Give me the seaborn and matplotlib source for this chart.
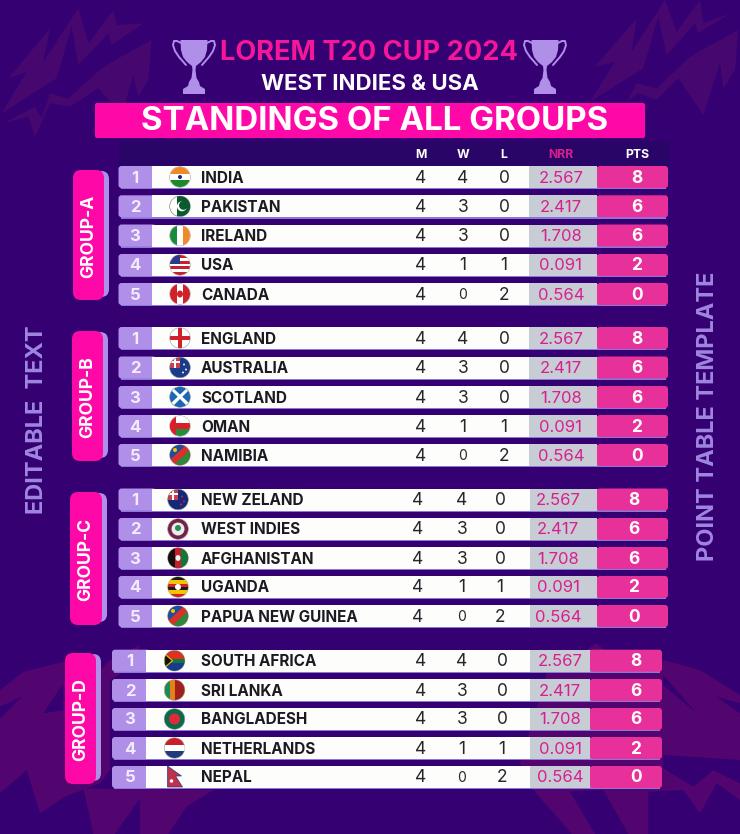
import matplotlib
matplotlib.use("Agg")
import matplotlib.pyplot as plt
from matplotlib.patches import FancyBboxPatch, Polygon, Rectangle, Ellipse
import pandas as pd
import seaborn as sns

# ---------- data ----------
title = "LOREM T20 CUP 2024"
subtitle = "WEST INDIES & USA"
banner = "STANDINGS OF ALL GROUPS"
columns = ["M", "W", "L", "NRR", "PTS"]
groups = ["GROUP-A", "GROUP-B", "GROUP-C", "GROUP-D"]
team_a = ["INDIA", "PAKISTAN", "IRELAND", "USA", "CANADA"]
team_b = ["ENGLAND", "AUSTRALIA", "SCOTLAND", "OMAN", "NAMIBIA"]
team_c = ["NEW ZELAND", "WEST INDIES", "AFGHANISTAN", "UGANDA", "PAPUA NEW GUINEA"]
team_d = ["SOUTH AFRICA", "SRI LANKA", "BANGLADESH", "NETHERLANDS", "NEPAL"]
ranks = [1, 2, 3, 4, 5]
played = [4, 4, 4, 4, 4]
won = [4, 3, 3, 1, 0]
lost = [0, 0, 0, 1, 2]
nrr = ["2.567", "2.417", "1.708", "0.091", "0.564"]
pts = [8, 6, 6, 2, 0]
side_left = "EDITABLE  TEXT"
side_right = "POINT TABLE TEMPLATE"

# ---------- layout (pixel space) ----------
W_PX, H_PX = 740, 834
BG = "#340072"
FLAME_TOP = "#46086f"
FLAME_BOT = "#52046f"
PINK = "#ff08a8"
TITLE_PINK = "#f5169a"
LILAC = "#b08fe8"
PTS_PINK = "#e8309a"
NRR_GREY = "#c8ccd4"
NRR_TXT = "#d81f8f"
ROW_Y = [[177, 206.3, 235.5, 265, 294],
         [338, 367.5, 397, 426, 455],
         [499.5, 529, 558, 587, 616],
         [660.7, 690, 719, 748, 777]]
GEOM = [dict(l=118.5, re=152, fx=180, m=421, w=463, l_=504, nl=529, nr=597, r=668, rk=135, nx=561, px=637),
        dict(l=118.5, re=152, fx=180, m=421, w=463, l_=504, nl=529, nr=597, r=668, rk=135, nx=561, px=637),
        dict(l=118.5, re=152, fx=178, m=418, w=462, l_=500, nl=530, nr=597, r=668, rk=135, nx=558, px=634),
        dict(l=112, re=146, fx=174.5, m=421, w=462, l_=502, nl=530, nr=590, r=662, rk=130, nx=560, px=636)]
PILLS = [(73, 170, 31, 130), (72, 331, 31, 130), (70, 492, 32, 133), (65, 653, 31, 131)]

sns.set_theme(style="white", rc={"axes.facecolor": BG, "figure.facecolor": BG})
plt.rcParams["font.family"] = ["Inter", "DejaVu Sans"]

fig = plt.figure(figsize=(W_PX / 100, H_PX / 100), dpi=100)
ax = fig.add_axes([0, 0, 1, 1])
ax.set_xlim(0, W_PX)
ax.set_ylim(H_PX, 0)
ax.axis("off")


def rbox(x, y, w, h, color, r=3, z=3):
    p = FancyBboxPatch((x + r, y + r), w - 2 * r, h - 2 * r, boxstyle=f"round,pad={r},rounding_size={r}",
                       fc=color, ec="none", zorder=z)
    ax.add_patch(p)
    return p


def zp(points, ox=0, oy=0):
    return [(ox + a / 3, oy + b / 3) for a, b in points]


# background flames (traced on 3x crops)
top_flames = [
    zp([(25, 235), (150, 85), (130, 185), (235, 25), (265, 130), (340, 30), (350, 75), (430, 70), (335, 135),
        (325, 100), (235, 195), (215, 80), (170, 235), (5, 340), (80, 215)]),
    zp([(10, 370), (105, 320), (125, 355), (150, 280), (205, 295), (305, 205), (345, 180), (455, 120), (445, 240),
        (415, 290), (400, 225), (375, 310), (335, 310), (295, 265), (210, 320), (150, 310), (105, 410), (85, 350)]),
    zp([(105, 200), (230, 55), (215, 155), (315, 0), (350, 95), (420, 0), (430, 70), (510, 40), (415, 100), (405, 70),
        (320, 165), (295, 50), (250, 205), (90, 305), (165, 185)], 560),
    zp([(200, 305), (230, 250), (290, 265), (385, 175), (425, 150), (535, 90), (525, 210), (490, 265), (480, 190),
        (430, 345), (355, 235), (290, 300), (235, 280)], 560),
]
bot_flames = [
    zp([(0, 150), (70, 95), (190, 65), (300, 90), (330, 60), (420, 15), (400, 80), (330, 120), (330, 240), (330, 390),
        (300, 430), (195, 470), (120, 520), (80, 390), (0, 460), (0, 235), (65, 170), (0, 200)], 0, 640),
    zp([(250, 445), (280, 582), (345, 582), (420, 475), (420, 582), (505, 582), (560, 500), (640, 450)], 0, 640),
    zp([(290, 10), (360, 70), (490, 60), (600, 90), (720, 165), (720, 190), (650, 170), (720, 220), (720, 360),
        (490, 345), (490, 385), (580, 440), (640, 390), (720, 430), (720, 480), (650, 430), (600, 520), (550, 450),
        (445, 455), (445, 582), (385, 582), (310, 450), (210, 455), (285, 582), (215, 582), (170, 530), (100, 450),
        (60, 370), (140, 100)], 500, 640),
]
for pts_ in top_flames:
    ax.add_patch(Polygon(pts_, closed=True, fc=FLAME_TOP, ec="none", zorder=1))
for pts_ in bot_flames:
    ax.add_patch(Polygon(pts_, closed=True, fc=FLAME_BOT, ec="none", zorder=1))
ax.add_patch(Polygon(zp([(490, 105), (590, 220), (490, 135)], 500, 640), fc=BG, ec="none", zorder=1.5))
ax.add_patch(Polygon(zp([(130, 220), (190, 130), (190, 210)], 0, 640), fc=BG, ec="none", zorder=1.5))


# trophies
def trophy(cx):
    c = LILAC
    cup = [(cx - 13.5, 40), (cx + 13.5, 40), (cx + 13, 50), (cx + 11, 57), (cx + 7, 62), (cx + 2, 66), (cx + 1.5, 70),
           (cx + 2.5, 78), (cx + 5, 82), (cx + 6, 86), (cx + 11, 89), (cx + 11, 94), (cx - 11, 94), (cx - 11, 89),
           (cx - 6, 86), (cx - 5, 82), (cx - 2.5, 78), (cx - 1.5, 70), (cx - 2, 66), (cx - 7, 62), (cx - 11, 57),
           (cx - 13, 50)]
    ax.add_patch(Polygon(cup, closed=True, fc=c, ec="none", zorder=3))
    for s in (-1, 1):
        hx = [cx + s * 13, cx + s * 17, cx + s * 20, cx + s * 21, cx + s * 19, cx + s * 15, cx + s * 8]
        hy = [43, 41, 41, 45, 51, 57, 65]
        ax.plot(hx, hy, color=c, lw=1.4, zorder=3, solid_capstyle="round")


trophy(194)
trophy(545)

ax.text(369, 53, title, color=TITLE_PINK, fontsize=19.6, fontweight="bold", ha="center", va="center", zorder=5)
ax.text(370, 84, subtitle, color="white", fontsize=16, fontweight="bold", ha="center", va="center", zorder=5)
rbox(95, 103, 550, 35, PINK, r=2, z=4)
ax.text(374.5, 121.5, banner, color="white", fontsize=23.8, fontweight="bold", ha="center", va="center", zorder=5)

# header band
ax.add_patch(Rectangle((118.5, 141), 550, 26, fc="#2a0568", ec="none", zorder=2))
for lab, x, col in zip(columns, [421, 463, 504, 561, 637], ["white", "white", "white", NRR_TXT, "white"]):
    ax.text(x, 154.5, lab, color=col, fontsize=8.8, fontweight="bold", ha="center", va="center", zorder=5)

# side texts
ax.text(37, 420, side_left, color="#9f86e0", fontsize=17, fontweight="bold", rotation=90, ha="center", va="center")
ax.text(708, 416, side_right, color="#9f86e0", fontsize=17, fontweight="bold", rotation=90, ha="center", va="center")

# pills
for name, (x, y, w, h) in zip(groups, PILLS):
    rbox(x + 4, y + 1, w + 1, h - 4, LILAC, r=8, z=3)
    rbox(x, y, w, h, PINK, r=8, z=4)
    ax.text(x + w / 2, y + h / 2 + 1, name, color="white", fontsize=12.6, fontweight="bold", rotation=90,
            ha="center", va="center", zorder=5)

# rows
teams = [team_a, team_b, team_c, team_d]
frames = []
TY = 1.0
for gi, (g, ys, names) in enumerate(zip(GEOM, ROW_Y, teams)):
    frames.append(pd.DataFrame({"team": names, "y": ys, "x": g["fx"]}))
    for i, y in enumerate(ys):
        top, h = y - 11, 22
        ax.add_patch(Rectangle((g["l"] + 2, top + 0.6), g["r"] - g["l"] - 4, h + 0.6, fc="#8a78d8", ec="none", zorder=2))
        rbox(g["l"], top, g["re"] - g["l"] + 4, h, LILAC, r=3, z=3)
        ax.add_patch(Rectangle((g["re"], top), g["nl"] - g["re"], h, fc="#fdfdfb", ec="none", zorder=3))
        ax.add_patch(Rectangle((g["nl"], top), g["nr"] - g["nl"], h, fc=NRR_GREY, ec="none", zorder=3))
        rbox(g["nr"], top, g["r"] - g["nr"], h, PTS_PINK, r=3, z=3)
        ax.text(g["rk"], y + TY, str(ranks[i]), color="#f3ecff", fontsize=12, fontweight="bold", ha="center", va="center", zorder=5)
        ax.text(201, y + TY, names[i], color="#1a1a22", fontsize=11, fontweight="bold", ha="left", va="center", zorder=5)
        tc = "#26262c"
        ax.text(g["m"], y + TY, str(played[i]), color=tc, fontsize=12.5, ha="center", va="center", zorder=5)
        ax.text(g["w"], y + TY, str(won[i]), color=tc, fontsize=12.5 if won[i] else 10, ha="center", va="center", zorder=5)
        ax.text(g["l_"], y + TY, str(lost[i]), color=tc, fontsize=12.5, ha="center", va="center", zorder=5)
        ax.text(g["nx"], y + TY, nrr[i], color=NRR_TXT, fontsize=12, ha="center", va="center", zorder=5)
        ax.text(g["px"], y + TY, str(pts[i]), color="white", fontsize=12.5, fontweight="bold", ha="center", va="center", zorder=5)

# flags: base disc through seaborn, details clipped to it
df = pd.concat(frames, ignore_index=True)
base = {"INDIA": "#ffffff", "PAKISTAN": "#0b5a2d", "IRELAND": "#ffffff", "USA": "#ffffff", "CANADA": "#ffffff",
        "ENGLAND": "#ffffff", "AUSTRALIA": "#1a3a8a", "SCOTLAND": "#1c67b5", "OMAN": "#ffffff", "NAMIBIA": "#d9302c",
        "NEW ZELAND": "#16287a", "WEST INDIES": "#7a1f4b", "AFGHANISTAN": "#c8202a", "UGANDA": "#f5c400",
        "PAPUA NEW GUINEA": "#d9302c", "SOUTH AFRICA": "#0e7a3a", "SRI LANKA": "#e8a21a", "BANGLADESH": "#0a6a4a",
        "NETHERLANDS": "#ffffff", "NEPAL": "#ffffff"}
sns.scatterplot(data=df[df.team != "NEPAL"], x="x", y="y", hue="team", palette=base, s=220, linewidth=0.4,
                edgecolor="#999999", legend=False, zorder=6, ax=ax)
H = {"INDIA": ["#f08a24", "#ffffff", "#1a8a2c"], "NETHERLANDS": ["#c8202a", "#ffffff", "#1f3a7a"],
     "OMAN": ["#ffffff", "#d9202a", "#2a8a3a"], "UGANDA": ["#1a1a1a", "#f5c400", "#d9202a", "#1a1a1a", "#f5c400", "#d9202a"],
     "USA": ["#c8202a", "#ffffff"] * 3 + ["#c8202a"]}
V = {"IRELAND": ["#1a8a3c", "#ffffff", "#f08a24"], "AFGHANISTAN": ["#111111", "#c8202a", "#0e7a3a"],
     "CANADA": ["#d0202a", "#ffffff", "#d0202a"], "PAKISTAN": ["#ffffff", "#0b5a2d", "#0b5a2d"],
     "SRI LANKA": ["#1a8a5a", "#e8801a", "#a02020", "#a02020"]}
R = 10.0
for _, row in df.iterrows():
    t, cx, cy = row.team, row.x, row.y
    clip = Ellipse((cx, cy), 2 * R, 2 * R, transform=ax.transData)
    items = []
    if t in H:
        n = len(H[t])
        for k, c in enumerate(H[t]):
            items.append(Rectangle((cx - R, cy - R + 2 * R * k / n), 2 * R, 2 * R / n, fc=c, ec="none"))
    if t in V:
        n = len(V[t])
        for k, c in enumerate(V[t]):
            items.append(Rectangle((cx - R + 2 * R * k / n, cy - R), 2 * R / n, 2 * R, fc=c, ec="none"))
    if t == "INDIA":
        items.append(Ellipse((cx, cy), 4, 4, fc="#1a2a7a", ec="none"))
    if t == "PAKISTAN":
        items += [Ellipse((cx + 2, cy), 10, 10, fc="white", ec="none"), Ellipse((cx + 3.5, cy - 1), 9, 9, fc="#0b5a2d", ec="none")]
    if t == "USA":
        items.append(Rectangle((cx - R, cy - R), R, R * 0.9, fc="#2a3a8a", ec="none"))
    if t == "CANADA":
        items.append(Ellipse((cx, cy), 6, 7, fc="#d0202a", ec="none"))
    if t == "ENGLAND":
        items += [Rectangle((cx - 2, cy - R), 4, 2 * R, fc="#d0202a", ec="none"), Rectangle((cx - R, cy - 2), 2 * R, 4, fc="#d0202a", ec="none")]
    if t in ("AUSTRALIA", "NEW ZELAND"):
        items += [Rectangle((cx - R, cy - R), R, R, fc="#c8404a", ec="none"),
                  Rectangle((cx - R, cy - R + 3), R, 2, fc="white", ec="none"),
                  Rectangle((cx - R + 4, cy - R), 2, R, fc="white", ec="none")]
        for dx, dy in [(4, -3), (6, 2), (3, 5)]:
            items.append(Ellipse((cx + dx, cy + dy), 2, 2, fc="#e8e8f0" if t == "AUSTRALIA" else "#d0202a", ec="none"))
    if t == "SCOTLAND":
        items += [Polygon([(cx - R, cy - 8), (cx - R + 3, cy - 9), (cx + R, cy + 7), (cx + R - 3, cy + 9)], fc="white", ec="none"),
                  Polygon([(cx + R, cy - 8), (cx + R - 3, cy - 9), (cx - R, cy + 7), (cx - R + 3, cy + 9)], fc="white", ec="none")]
    if t == "OMAN":
        items.append(Rectangle((cx - R, cy - R), 6, 2 * R, fc="#d9202a", ec="none"))
    if t in ("NAMIBIA", "PAPUA NEW GUINEA"):
        items += [Polygon([(cx - R, cy - R), (cx + 6, cy - R), (cx - R, cy + 5)], fc="#1c4fa0", ec="none"),
                  Polygon([(cx + R, cy + R), (cx - 6, cy + R), (cx + R, cy - 5)], fc="#2a8a3a", ec="none"),
                  Ellipse((cx - 5, cy - 5), 4, 4, fc="#f5c400", ec="none")]
    if t == "WEST INDIES":
        items += [Ellipse((cx, cy), 13, 13, fc="#e8efe8", ec="none"), Ellipse((cx, cy - 1), 6, 6, fc="#2a8a5a", ec="none")]
    if t == "AFGHANISTAN":
        items.append(Ellipse((cx, cy), 5, 6, fc="#f0f0f0", ec="none"))
    if t == "UGANDA":
        items.append(Ellipse((cx, cy), 6, 6, fc="white", ec="none"))
    if t == "SOUTH AFRICA":
        items += [Rectangle((cx - R, cy - R), 2 * R, R - 1, fc="#e03020", ec="none"),
                  Rectangle((cx - R, cy + 1), 2 * R, R, fc="#1a3a90", ec="none"),
                  Rectangle((cx - R, cy - 2), 2 * R, 4, fc="#0e7a3a", ec="none"),
                  Polygon([(cx - R, cy - 7), (cx - 2, cy), (cx - R, cy + 7)], fc="#111111", ec="#f5c400", lw=0.8)]
    if t == "BANGLADESH":
        items.append(Ellipse((cx, cy), 11, 11, fc="#e02a3a", ec="none"))
    if t == "NEPAL":
        poly = [(cx - 7, cy - 11), (cx + 7, cy - 1), (cx + 1, cy - 1), (cx + 8, cy + 10), (cx - 7, cy + 10)]
        ax.add_patch(Polygon(poly, closed=True, fc="#c0304a", ec="#2a3a80", lw=0.5, zorder=7))
        ax.add_patch(Ellipse((cx - 3, cy + 4), 3.5, 3.5, fc="white", ec="none", zorder=8))
        continue
    for it in items:
        ax.add_patch(it)
        it.set_zorder(7)
        it.set_clip_path(clip)

fig.savefig("out.png", dpi=100, facecolor=BG)
